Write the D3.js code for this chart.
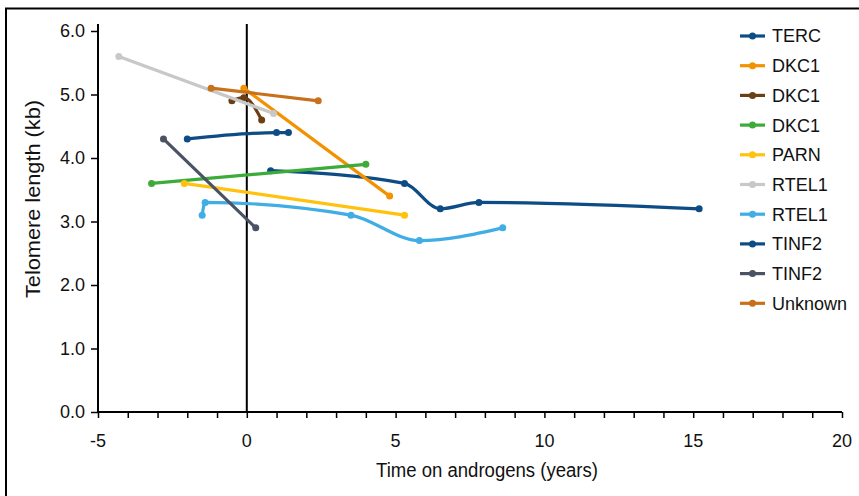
<!DOCTYPE html>
<html>
<head>
<meta charset="utf-8">
<script src="https://cdn.jsdelivr.net/npm/d3@7"></script>
<style>
  body { margin: 0; background: #fff; }
  svg { display: block; }
</style>
</head>
<body>
<div id="chart"></div>
<script>
// Series, in legend order
const seriesNames = ['TERC', 'DKC1', 'DKC1', 'DKC1', 'PARN', 'RTEL1', 'RTEL1', 'TINF2', 'TINF2', 'Unknown'];
const seriesColors = ['#0d4c85', '#f39200', '#6b3f14', '#3dab3a', '#ffc20e', '#c8c8c8', '#40ade5', '#0d4c85', '#4a5264', '#c7711b'];

// Time on androgens (years)
const seriesX = [
    [0.8, 5.3, 6.5, 7.8, 15.2],
    [-0.1, 4.8],
    [-0.5, -0.1, 0.5],
    [-3.2, 4.0],
    [-2.1, 5.3],
    [-4.3, 0.9],
    [-1.5, -1.4, 3.5, 5.8, 8.6],
    [-2.0, 1.0, 1.4],
    [-2.8, 0.3],
    [-1.2, 2.4]
];

// Telomere length (kb)
const seriesY = [
    [3.8, 3.6, 3.2, 3.3, 3.2],
    [5.1, 3.4],
    [4.9, 4.95, 4.6],
    [3.6, 3.9],
    [3.6, 3.1],
    [5.6, 4.7],
    [3.1, 3.3, 3.1, 2.7, 2.9],
    [4.3, 4.4, 4.4],
    [4.3, 2.9],
    [5.1, 4.9]
];

const xTicks = [-5, 0, 5, 10, 15, 20];
const xMinorTicks = d3.range(-5, 21, 1);
const yTicks = [0, 1, 2, 3, 4, 5, 6];

const width = 859, height = 496;

const svg = d3.select('#chart')
    .append('svg')
    .attr('width', width)
    .attr('height', height);

// outer frame (top + left only)
svg.append('path')
    .attr('d', `M6,${height} V8.5 H${width}`)
    .attr('fill', 'none')
    .attr('stroke', '#000')
    .attr('stroke-width', 2);

const x = d3.scaleLinear().domain([-5, 20]).range([98, 842]);
const y = d3.scaleLinear().domain([0, 6]).range([412, 31]);

const fontFamily = '"Liberation Sans", Arial, Helvetica, sans-serif';

// x axis: minor ticks every year
const xAxis = svg.append('g')
    .attr('transform', `translate(0,${y(0)})`)
    .call(d3.axisBottom(x).tickValues(xMinorTicks).tickSize(6).tickFormat(''));
xAxis.select('.domain').attr('d', `M${x(-5)},0H${x(20)}`).attr('stroke-width', 2);
xAxis.selectAll('.tick line').attr('stroke-width', 1.5);

svg.append('g')
    .selectAll('text')
    .data(xTicks)
    .join('text')
    .attr('x', d => x(d))
    .attr('y', y(0) + 35)
    .attr('text-anchor', 'middle')
    .attr('font-family', fontFamily)
    .attr('font-size', '18px')
    .attr('fill', '#111')
    .text(d => d);

// y axis
const yAxis = svg.append('g')
    .attr('transform', `translate(${x(-5)},0)`)
    .call(d3.axisLeft(y).tickValues(yTicks).tickSize(7).tickPadding(6).tickFormat(d3.format('.1f')));
yAxis.select('.domain').attr('d', `M0,${y(0)}V24`).attr('stroke-width', 2);
yAxis.selectAll('.tick line').attr('stroke-width', 1.5);
yAxis.selectAll('.tick text')
    .attr('font-family', fontFamily)
    .attr('font-size', '18px')
    .attr('fill', '#111');

// vertical reference at time 0
svg.append('line')
    .attr('x1', x(0)).attr('x2', x(0))
    .attr('y1', y(0)).attr('y2', 24)
    .attr('stroke', '#000')
    .attr('stroke-width', 2);

// axis titles (condensed look)
svg.append('text')
    .attr('x', 487)
    .attr('y', 477)
    .attr('text-anchor', 'middle')
    .attr('font-family', fontFamily)
    .attr('font-size', '20px')
    .attr('textLength', 222)
    .attr('lengthAdjust', 'spacingAndGlyphs')
    .attr('fill', '#111')
    .text('Time on androgens (years)');

svg.append('text')
    .attr('transform', `translate(40,199) rotate(-90)`)
    .attr('text-anchor', 'middle')
    .attr('font-family', fontFamily)
    .attr('font-size', '20px')
    .attr('textLength', 198)
    .attr('lengthAdjust', 'spacingAndGlyphs')
    .attr('fill', '#111')
    .text('Telomere length (kb)');

// series
const series = seriesNames.map((name, i) => ({
    name: name,
    color: seriesColors[i],
    points: seriesX[i].map((v, j) => [v, seriesY[i][j]])
}));

const line = d3.line()
    .x(d => x(d[0]))
    .y(d => y(d[1]))
    .curve(d3.curveMonotoneX);

const plot = svg.append('g');

series.forEach(s => {
    const g = plot.append('g');
    g.append('path')
        .attr('d', line(s.points))
        .attr('fill', 'none')
        .attr('stroke', s.color)
        .attr('stroke-width', 3.2)
        .attr('stroke-linejoin', 'round');
    g.selectAll('circle')
        .data(s.points)
        .join('circle')
        .attr('cx', d => x(d[0]))
        .attr('cy', d => y(d[1]))
        .attr('r', 3.5)
        .attr('fill', s.color);
});

// legend
const legend = svg.append('g')
    .attr('transform', 'translate(740,36)');

const item = legend.selectAll('g')
    .data(series)
    .join('g')
    .attr('transform', (d, i) => `translate(0,${i * 29.7})`);

item.append('line')
    .attr('x1', 0).attr('x2', 25)
    .attr('stroke', d => d.color)
    .attr('stroke-width', 3.2);

item.append('circle')
    .attr('cx', 12.5)
    .attr('r', 3.5)
    .attr('fill', d => d.color);

item.append('text')
    .attr('x', 32)
    .attr('dy', '0.36em')
    .attr('font-family', fontFamily)
    .attr('font-size', '18px')
    .attr('fill', '#111')
    .text(d => d.name);
</script>
</body>
</html>
